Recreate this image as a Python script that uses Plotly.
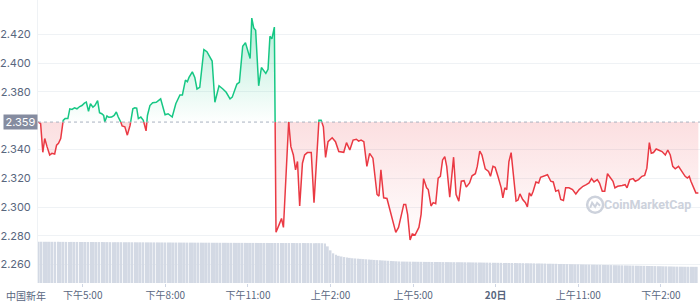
import plotly.graph_objects as go

# ---------------- data ----------------
BASELINE = 2.359

TIME_H = [
    15.38, 15.47, 15.55, 15.62, 15.70, 15.80, 15.88, 15.98, 16.05, 16.12,
    16.20, 16.29, 16.36, 16.46, 16.53, 16.61, 16.70, 16.79, 16.89, 16.97,
    17.06, 17.13, 17.21, 17.28, 17.37, 17.44, 17.54, 17.61, 17.69, 17.76,
    17.80, 17.88, 17.95, 18.05, 18.14, 18.22, 18.29, 18.36, 18.43, 18.53,
    18.62, 18.72, 18.82, 18.89, 18.96, 19.02, 19.11, 19.20, 19.30, 19.35,
    19.44, 19.54, 19.67, 19.83, 19.99, 20.10, 20.25, 20.38, 20.53, 20.62,
    20.73, 20.80, 20.86, 20.98, 21.07, 21.15, 21.25, 21.40, 21.51, 21.70,
    21.80, 21.95, 22.09, 22.21, 22.35, 22.43, 22.60, 22.69, 22.81, 22.91,
    23.08, 23.14, 23.21, 23.28, 23.39, 23.49, 23.65, 23.73, 23.80, 23.87,
    23.96, 24.02, 24.14, 24.22, 24.29, 24.40, 24.48, 24.56, 24.65, 24.73,
    24.80, 24.88, 24.98, 25.06, 25.16, 25.30, 25.40, 25.49, 25.58, 25.66,
    25.74, 25.82, 25.91, 26.06, 26.18, 26.30, 26.48, 26.58, 26.70, 26.82,
    26.94, 27.02, 27.11, 27.21, 27.32, 27.42, 27.54, 27.69, 27.76, 27.83,
    27.93, 28.05, 28.11, 28.23, 28.37, 28.47, 28.59, 28.66, 28.73, 28.80,
    28.89, 28.97, 29.07, 29.21, 29.29, 29.38, 29.49, 29.55, 29.65, 29.73,
    29.82, 29.91, 29.99, 30.07, 30.15, 30.22, 30.33, 30.47, 30.56, 30.66,
    30.75, 30.85, 30.93, 31.05, 31.14, 31.26, 31.33, 31.42, 31.50, 31.62,
    31.74, 31.81, 31.90, 31.98, 32.08, 32.20, 32.26, 32.33, 32.40, 32.48,
    32.56, 32.64, 32.74, 32.81, 32.88, 32.98, 33.08, 33.15, 33.22, 33.29,
    33.36, 33.46, 33.56, 33.63, 33.76, 33.88, 34.00, 34.09, 34.18, 34.28,
    34.36, 34.46, 34.54, 34.66, 34.79, 34.91, 35.03, 35.17, 35.29, 35.39,
    35.48, 35.57, 35.69, 35.77, 35.87, 35.96, 36.06, 36.17, 36.26, 36.33,
    36.43, 36.59, 36.70, 36.77, 36.87, 36.99, 37.07, 37.19, 37.31, 37.41,
    37.49, 37.58, 37.65, 37.73, 37.83, 37.91, 38.04, 38.16, 38.25, 38.34,
    38.43, 38.52, 38.64, 38.76, 38.88, 38.96, 39.03, 39.09, 39.18, 39.27,
    39.36,
]

PRICE = [
    2.3591, 2.3579, 2.3380, 2.3476, 2.3421, 2.3361, 2.3373, 2.3368, 2.3430, 2.3442,
    2.3476, 2.3602, 2.3614, 2.3614, 2.3682, 2.3678, 2.3689, 2.3682, 2.3698, 2.3705,
    2.3721, 2.3728, 2.3664, 2.3717, 2.3694, 2.3705, 2.3739, 2.3655, 2.3648, 2.3636,
    2.3591, 2.3632, 2.3623, 2.3625, 2.3636, 2.3660, 2.3625, 2.3602, 2.3563, 2.3557,
    2.3499, 2.3568, 2.3682, 2.3689, 2.3687, 2.3614, 2.3625, 2.3602, 2.3529, 2.3636,
    2.3705, 2.3724, 2.3727, 2.3751, 2.3641, 2.3648, 2.3625, 2.3717, 2.3778, 2.3778,
    2.3882, 2.3870, 2.3900, 2.3939, 2.3900, 2.3820, 2.3831, 2.4094, 2.4079, 2.4014,
    2.3728, 2.3842, 2.3820, 2.3797, 2.3751, 2.3763, 2.3854, 2.3866, 2.4117, 2.4141,
    2.4031, 2.4312, 2.4244, 2.4227, 2.3842, 2.3969, 2.3928, 2.3957, 2.4186, 2.4168,
    2.4250, 2.2824, 2.2881, 2.2920, 2.2858, 2.3339, 2.3591, 2.3419, 2.3361, 2.3258,
    2.3316, 2.3007, 2.3304, 2.3361, 2.3378, 2.3378, 2.3030, 2.3339, 2.3602, 2.3602,
    2.3557, 2.3344, 2.3454, 2.3481, 2.3454, 2.3385, 2.3380, 2.3447, 2.3396, 2.3465,
    2.3471, 2.3458, 2.3465, 2.3454, 2.3282, 2.3373, 2.3339, 2.3087, 2.3076, 2.3258,
    2.3064, 2.3059, 2.3018, 2.2927, 2.2824, 2.2858, 2.2949, 2.3018, 2.3018, 2.2949,
    2.2771, 2.2812, 2.2805, 2.2858, 2.2949, 2.3197, 2.3133, 2.3121, 2.3007, 2.3030,
    2.3023, 2.3201, 2.3213, 2.3327, 2.3350, 2.3282, 2.3069, 2.3346, 2.3087, 2.3041,
    2.3179, 2.3183, 2.3138, 2.3167, 2.3217, 2.3231, 2.3282, 2.3389, 2.3361, 2.3265,
    2.3247, 2.3213, 2.3282, 2.3275, 2.3213, 2.3133, 2.3064, 2.3133, 2.3121, 2.3316,
    2.3378, 2.3224, 2.3041, 2.3048, 2.3091, 2.3052, 2.3030, 2.3000, 2.3098, 2.3076,
    2.3110, 2.3174, 2.3167, 2.3206, 2.3217, 2.3224, 2.3179, 2.3174, 2.3110, 2.3117,
    2.3052, 2.3045, 2.3133, 2.3133, 2.3121, 2.3091, 2.3121, 2.3144, 2.3155, 2.3167,
    2.3197, 2.3174, 2.3190, 2.3167, 2.3110, 2.3110, 2.3231, 2.3201, 2.3179, 2.3133,
    2.3144, 2.3149, 2.3155, 2.3133, 2.3190, 2.3197, 2.3179, 2.3190, 2.3213, 2.3220,
    2.3270, 2.3447, 2.3373, 2.3378, 2.3403, 2.3396, 2.3385, 2.3361, 2.3396, 2.3361,
    2.3282, 2.3265, 2.3282, 2.3247, 2.3213, 2.3201, 2.3213, 2.3179, 2.3133, 2.3098,
    2.3098,
]

VOL_START_H = 15.4
VOL_STEP_H = 0.1
VOLUME = [
    97.7, 97.7, 97.6, 97.6, 97.6, 97.5, 97.5, 97.4, 97.4, 97.4, 97.3, 97.3, 97.3, 97.2, 97.2, 97.1, 97.1, 97.1, 97.0, 97.0,
    97.0, 96.9, 96.9, 96.8, 96.8, 96.8, 96.7, 96.7, 96.6, 96.6, 96.6, 96.5, 96.5, 96.5, 96.4, 96.4, 96.3, 96.3, 96.3, 96.2,
    96.2, 96.1, 96.1, 96.1, 96.0, 96.0, 95.9, 95.9, 95.9, 95.8, 95.8, 95.8, 95.7, 95.7, 95.6, 95.6, 95.6, 95.5, 95.5, 95.5,
    95.4, 95.4, 95.4, 95.3, 95.3, 95.3, 95.2, 95.2, 95.2, 95.1, 95.1, 95.1, 95.0, 95.0, 95.0, 95.0, 94.9, 94.9, 94.9, 94.9,
    94.8, 94.8, 94.8, 94.8, 94.7, 94.7, 94.7, 94.7, 94.7, 94.6, 94.6, 94.6, 94.6, 94.6, 94.5, 94.5, 94.5, 94.5, 94.5, 94.4,
    94.4, 94.4, 94.3, 94.2, 93.7, 86.7, 77.3, 70.3, 66.8, 64.4, 62.8, 61.4, 60.4, 59.5, 58.6, 58.1, 57.6, 57.1, 56.6, 56.1,
    55.6, 55.1, 54.6, 54.2, 53.8, 53.4, 53.0, 52.6, 52.2, 51.8, 51.4, 51.0, 50.8, 50.7, 50.6, 50.5, 50.4, 50.3, 50.2, 50.1,
    50.0, 49.9, 49.9, 49.8, 49.7, 49.7, 49.6, 49.5, 49.5, 49.4, 49.3, 49.3, 49.2, 49.2, 49.1, 49.0, 48.9, 48.8, 48.7, 48.6,
    48.5, 48.4, 48.3, 48.2, 48.1, 48.0, 47.9, 47.8, 47.7, 47.6, 47.5, 47.4, 47.3, 47.2, 47.1, 47.0, 46.9, 46.8, 46.7, 46.6,
    46.5, 46.4, 46.3, 46.1, 46.0, 45.8, 45.7, 45.5, 45.4, 45.2, 45.1, 44.9, 44.8, 44.6, 44.5, 44.3, 44.2, 44.0, 43.9, 43.7,
    43.6, 43.4, 43.3, 43.1, 43.0, 42.8, 42.7, 42.5, 42.4, 42.2, 42.1, 41.9, 41.8, 41.6, 41.5, 41.3, 41.2, 41.0, 40.9, 40.7,
    40.6, 40.4, 40.3, 40.1, 40.0, 39.8, 39.7, 39.5, 39.4, 39.2, 39.1, 38.9, 38.8, 38.7, 38.6, 38.5, 38.4, 38.4, 38.3, 38.3,
]

X_TICK_VALS = [17, 20, 23, 26, 29, 32, 35, 38]
X_TICK_TEXT = ["下午5:00", "下午8:00", "下午11:00", "上午2:00", "上午5:00", "<b>20日</b>", "上午11:00", "下午2:00"]
FIRST_DAY_LABEL = "中国新年"
Y_TICK_VALS = [2.26, 2.28, 2.30, 2.32, 2.34, 2.38, 2.40, 2.42]
WATERMARK = "CoinMarketCap"

GREEN = "#16c784"
RED = "#ea3943"
TEXT = "#58667e"
GRID = "#eff2f5"
MARK = "#cdd2dc"

# ---------------- derived geometry ----------------
vol_t = [VOL_START_H + VOL_STEP_H * i for i in range(len(VOLUME))]

xs, ys = [TIME_H[0]], [PRICE[0]]
for i in range(1, len(PRICE)):
    x0, y0, x1, y1 = TIME_H[i - 1], PRICE[i - 1], TIME_H[i], PRICE[i]
    if (y0 - BASELINE) * (y1 - BASELINE) < 0:
        xc = x0 + (BASELINE - y0) / (y1 - y0) * (x1 - x0)
        xs.append(xc)
        ys.append(BASELINE)
    xs.append(x1)
    ys.append(y1)

up_line = [y if y >= BASELINE else None for y in ys]
dn_line = [y if y <= BASELINE else None for y in ys]
up_fill = [max(y, BASELINE) for y in ys]
dn_fill = [min(y, BASELINE) for y in ys]
base_line = [BASELINE] * len(xs)

fig = go.Figure()

fig.add_trace(go.Bar(x=vol_t, y=VOLUME, yaxis="y2", marker=dict(color="#d3d9e4", line=dict(width=0)),
                     hoverinfo="skip", showlegend=False))

fig.add_trace(go.Scatter(x=xs, y=base_line, mode="lines", line=dict(width=0), hoverinfo="skip", showlegend=False))
fig.add_trace(go.Scatter(x=xs, y=up_fill, mode="lines", line=dict(width=0), fill="tonexty",
                         fillgradient=dict(type="vertical",
                                           colorscale=[[0, "rgba(22,199,132,0.0)"], [1, "rgba(22,199,132,0.32)"]],
                                           start=BASELINE, stop=max(PRICE)),
                         hoverinfo="skip", showlegend=False))
fig.add_trace(go.Scatter(x=xs, y=base_line, mode="lines", line=dict(width=0), hoverinfo="skip", showlegend=False))
fig.add_trace(go.Scatter(x=xs, y=dn_fill, mode="lines", line=dict(width=0), fill="tonexty",
                         fillgradient=dict(type="vertical",
                                           colorscale=[[0, "rgba(234,57,67,0.0)"], [1, "rgba(234,57,67,0.16)"]],
                                           start=min(PRICE), stop=BASELINE),
                         hoverinfo="skip", showlegend=False))

fig.add_trace(go.Scatter(x=xs, y=up_line, mode="lines", line=dict(color=GREEN, width=1.5),
                         connectgaps=False, showlegend=False))
fig.add_trace(go.Scatter(x=xs, y=dn_line, mode="lines", line=dict(color=RED, width=1.5),
                         connectgaps=False, showlegend=False))

# dotted baseline
fig.add_shape(type="line", xref="paper", x0=0, x1=1, yref="y", y0=BASELINE, y1=BASELINE,
              line=dict(color="#a9b1c0", width=1, dash="dot"), layer="above")

PLOT_W = 666.0
PLOT_H = 286.0

annotations = [
    dict(text=f"{BASELINE:.3f}", xref="paper", x=0, xanchor="right", yref="y", y=BASELINE,
         yanchor="middle", showarrow=False, bgcolor="#858ca0", width=31, height=12, borderpad=1,
         font=dict(family="Inter, Roboto, sans-serif", size=11, color="white")),
    dict(text=FIRST_DAY_LABEL, xref="paper", x=-34 / PLOT_W, xanchor="left", yref="paper", y=0,
         yanchor="top", yshift=-3, showarrow=False,
         font=dict(family="Noto Sans CJK SC", size=10, color=TEXT)),
    dict(text=f"<b>{WATERMARK}</b>", xref="paper", x=(693 - 34) / PLOT_W, xanchor="right",
         yref="paper", y=1 - 206.5 / PLOT_H, yanchor="middle", showarrow=False,
         font=dict(family="Roboto, sans-serif", size=12.5, color=MARK)),
]
fig.add_shape(type="circle", xref="paper", yref="paper", xsizemode="pixel", ysizemode="pixel",
              xanchor=(594.5 - 34) / PLOT_W, yanchor=1 - 207 / PLOT_H,
              x0=-8, x1=8, y0=-8, y1=8, line=dict(color=MARK, width=2.5), layer="above")
fig.add_shape(type="path", xref="paper", yref="paper", xsizemode="pixel", ysizemode="pixel",
              xanchor=(594.5 - 34) / PLOT_W, yanchor=1 - 207 / PLOT_H,
              path="M -5,-3 L -3,2 L 0,-2 L 2,2 L 5,-1", line=dict(color=MARK, width=2), layer="above")

fig.update_layout(
    width=700, height=302,
    margin=dict(l=34, r=0, t=0, b=16),
    paper_bgcolor="white", plot_bgcolor="white",
    bargap=0.3,
    showlegend=False,
    annotations=annotations,
    xaxis=dict(range=[15.375, 39.42], tickvals=X_TICK_VALS, ticktext=X_TICK_TEXT,
               showgrid=False, zeroline=False, showline=False,
               ticks="outside", ticklen=3, tickcolor="#cfd6e4",
               tickfont=dict(family="Noto Sans CJK SC", size=10, color=TEXT)),
    yaxis=dict(range=[2.2472, 2.4438], tickvals=Y_TICK_VALS,
               ticktext=[f"{v:.3f}" for v in Y_TICK_VALS],
               showgrid=True, gridcolor=GRID, gridwidth=1, zeroline=False,
               showline=True, linecolor=GRID, linewidth=1, ticklabelstandoff=4,
               tickfont=dict(family="Inter, Roboto, sans-serif", size=11, color=TEXT)),
    yaxis2=dict(overlaying="y", range=[0, 670], visible=False, showgrid=False),
)

fig.write_html("out.html")
